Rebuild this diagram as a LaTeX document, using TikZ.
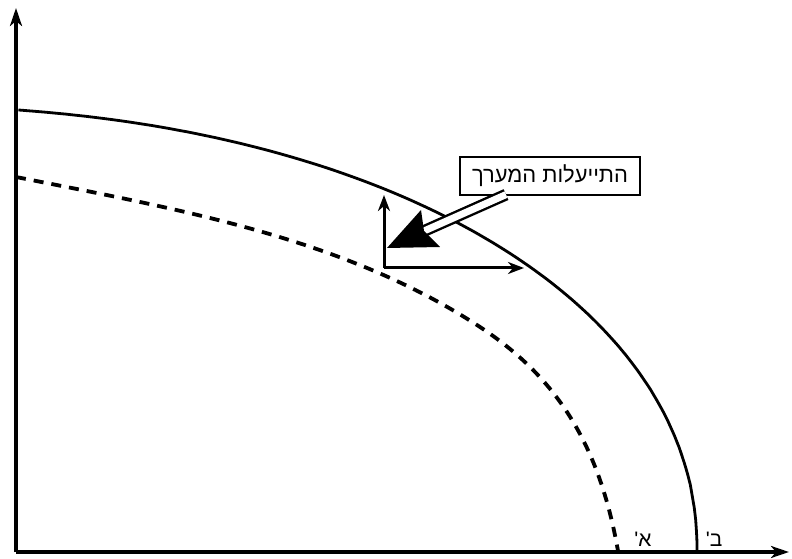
\documentclass[tikz,border=0pt]{standalone}
\usepackage{fontspec}
\setmainfont{Liberation Sans}
\newfontfamily\hebfont[Script=Hebrew]{Liberation Sans}
\TeXXeTstate=1
\usetikzlibrary{arrows.meta,calc}
\tikzset{
  axisline/.style={line width=3.2bp,-{Stealth[length=18bp,width=12bp,inset=5bp]}},
  ppf/.style={line width=2.8bp},
  ppfdash/.style={line width=3.8bp,dash pattern=on 10bp off 8bp},
  smallarrow/.style={line width=3bp,-{Stealth[length=16bp,width=12bp,inset=5bp]}},
  labelbox/.style={draw,line width=2.2bp,fill=white,minimum width=180bp,minimum height=38bp,inner sep=0pt,font=\hebfont\fontsize{22}{25}\selectfont},
  axlabel/.style={inner sep=0pt,font=\hebfont\fontsize{21}{23}\selectfont}
}
\begin{document}
\begin{tikzpicture}[x=1bp,y=-1bp]
\useasboundingbox (0,0) rectangle (792,559);
% origin and axes
\coordinate (O) at (16,552);
\coordinate (ytop) at (16,8);
\coordinate (xend) at (789,552);
\draw[axisline] (O) -- (ytop);
\draw[axisline] (O) -- (xend);
% dashed curve (A')
\coordinate (dstart) at (16,177);
\coordinate (dmid) at (480,327);
\coordinate (dend) at (618,551);
\draw[ppfdash] (dstart) .. controls (183,210) and (346,239) .. (dmid)
  .. controls (555.6,376.5) and (599,443) .. (dend);
% solid curve (B')
\draw[ppf] plot[domain=0.05:82.4,samples=120,variable=\t]
  ({-100+797*(cos(\t))^(0.952)},{551-444.7*(sin(\t))^(0.952)});
% small axes arrows
\coordinate (c) at (384,268);
\coordinate (cup) at (384,195);
\coordinate (cright) at (524,268);
\draw[smallarrow] (c) -- (cup);
\draw[smallarrow] (c) -- (cright);
% label box
\node[labelbox] (box) at (550,176) {\beginR התייעלות המערך\endR};
% big arrow from box
\coordinate (tip) at (387,248);
\coordinate (notch) at (424,231);
\draw[line width=2.4bp,double=white,double distance=7bp] ($(box.south)+(-44,-1.5)$) -- (notch);
\fill (tip) -- (421,210) -- (notch) -- (440,247) -- cycle;
% axis labels
\node[axlabel] (la) at (643,539) {\beginR א'\endR};
\node[axlabel] (lb) at (714,539) {\beginR ב'\endR};
\end{tikzpicture}
\end{document}
